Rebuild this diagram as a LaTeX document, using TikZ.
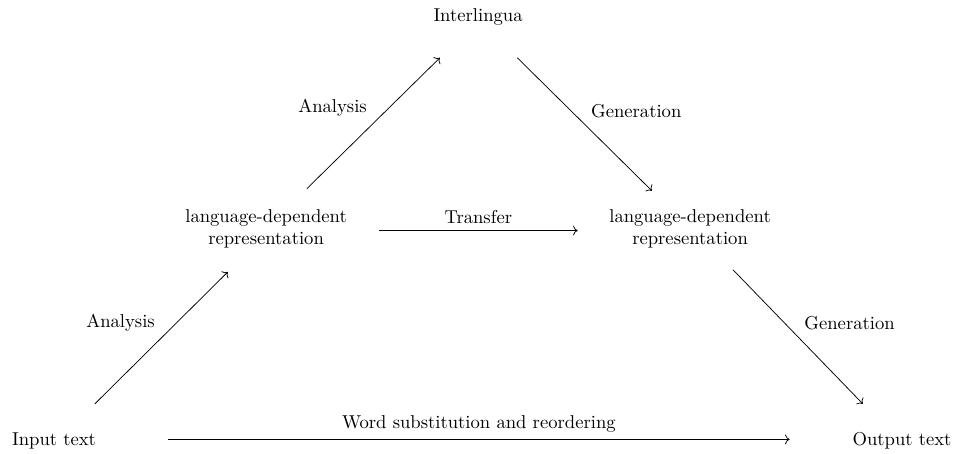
\documentclass[tikz,border=0pt]{standalone}
\usepackage{tikz}
\usetikzlibrary{arrows.meta, positioning, calc}
\tikzset{
	stage/.style={align=center},
	trans/.style={->},
}
\begin{document}
\begin{tikzpicture}
	\useasboundingbox (-1.02,-0.23) rectangle (16.98,8.32);
	% the three levels
	\node[stage] (src) at (0,0) {Input text};
	\node[stage] (tgt) at (16,0) {Output text};
	\node[stage] (ldrL) at (4,4) {language-dependent\\representation};
	\node[stage] (ldrR) at (12,4) {language-dependent\\representation};
	\node[stage] (ilng) at (8,8) {Interlingua};
	% analysis side
	\draw[trans] ([shift={(0.77,0.70)}]src.center) -- ([shift={(-0.72,-0.81)}]ldrL.center) node[midway, above left] {Analysis};
	\draw[trans] ([shift={(0.77,0.76)}]ldrL.center) -- ([shift={(-0.72,-0.77)}]ilng.center) node[midway, above left] {Analysis};
	% generation side
	\draw[trans] ([shift={(0.74,-0.77)}]ilng.center) -- ([shift={(-0.72,0.72)}]ldrR.center) node[midway, above right] {Generation};
	\draw[trans] ([shift={(0.81,-0.77)}]ldrR.center) -- ([shift={(-0.74,0.70)}]tgt.center) node[midway, above right] {Generation};
	% direct routes
	\draw[trans] ([shift={(2.13,-0.03)}]ldrL.center) -- ([shift={(-2.12,-0.03)}]ldrR.center) node[midway, above] {Transfer};
	\draw[trans] ([shift={(2.15,0.03)}]src.center) -- ([shift={(-2.12,0.03)}]tgt.center) node[midway, above] {Word substitution and reordering};
\end{tikzpicture}
\end{document}
